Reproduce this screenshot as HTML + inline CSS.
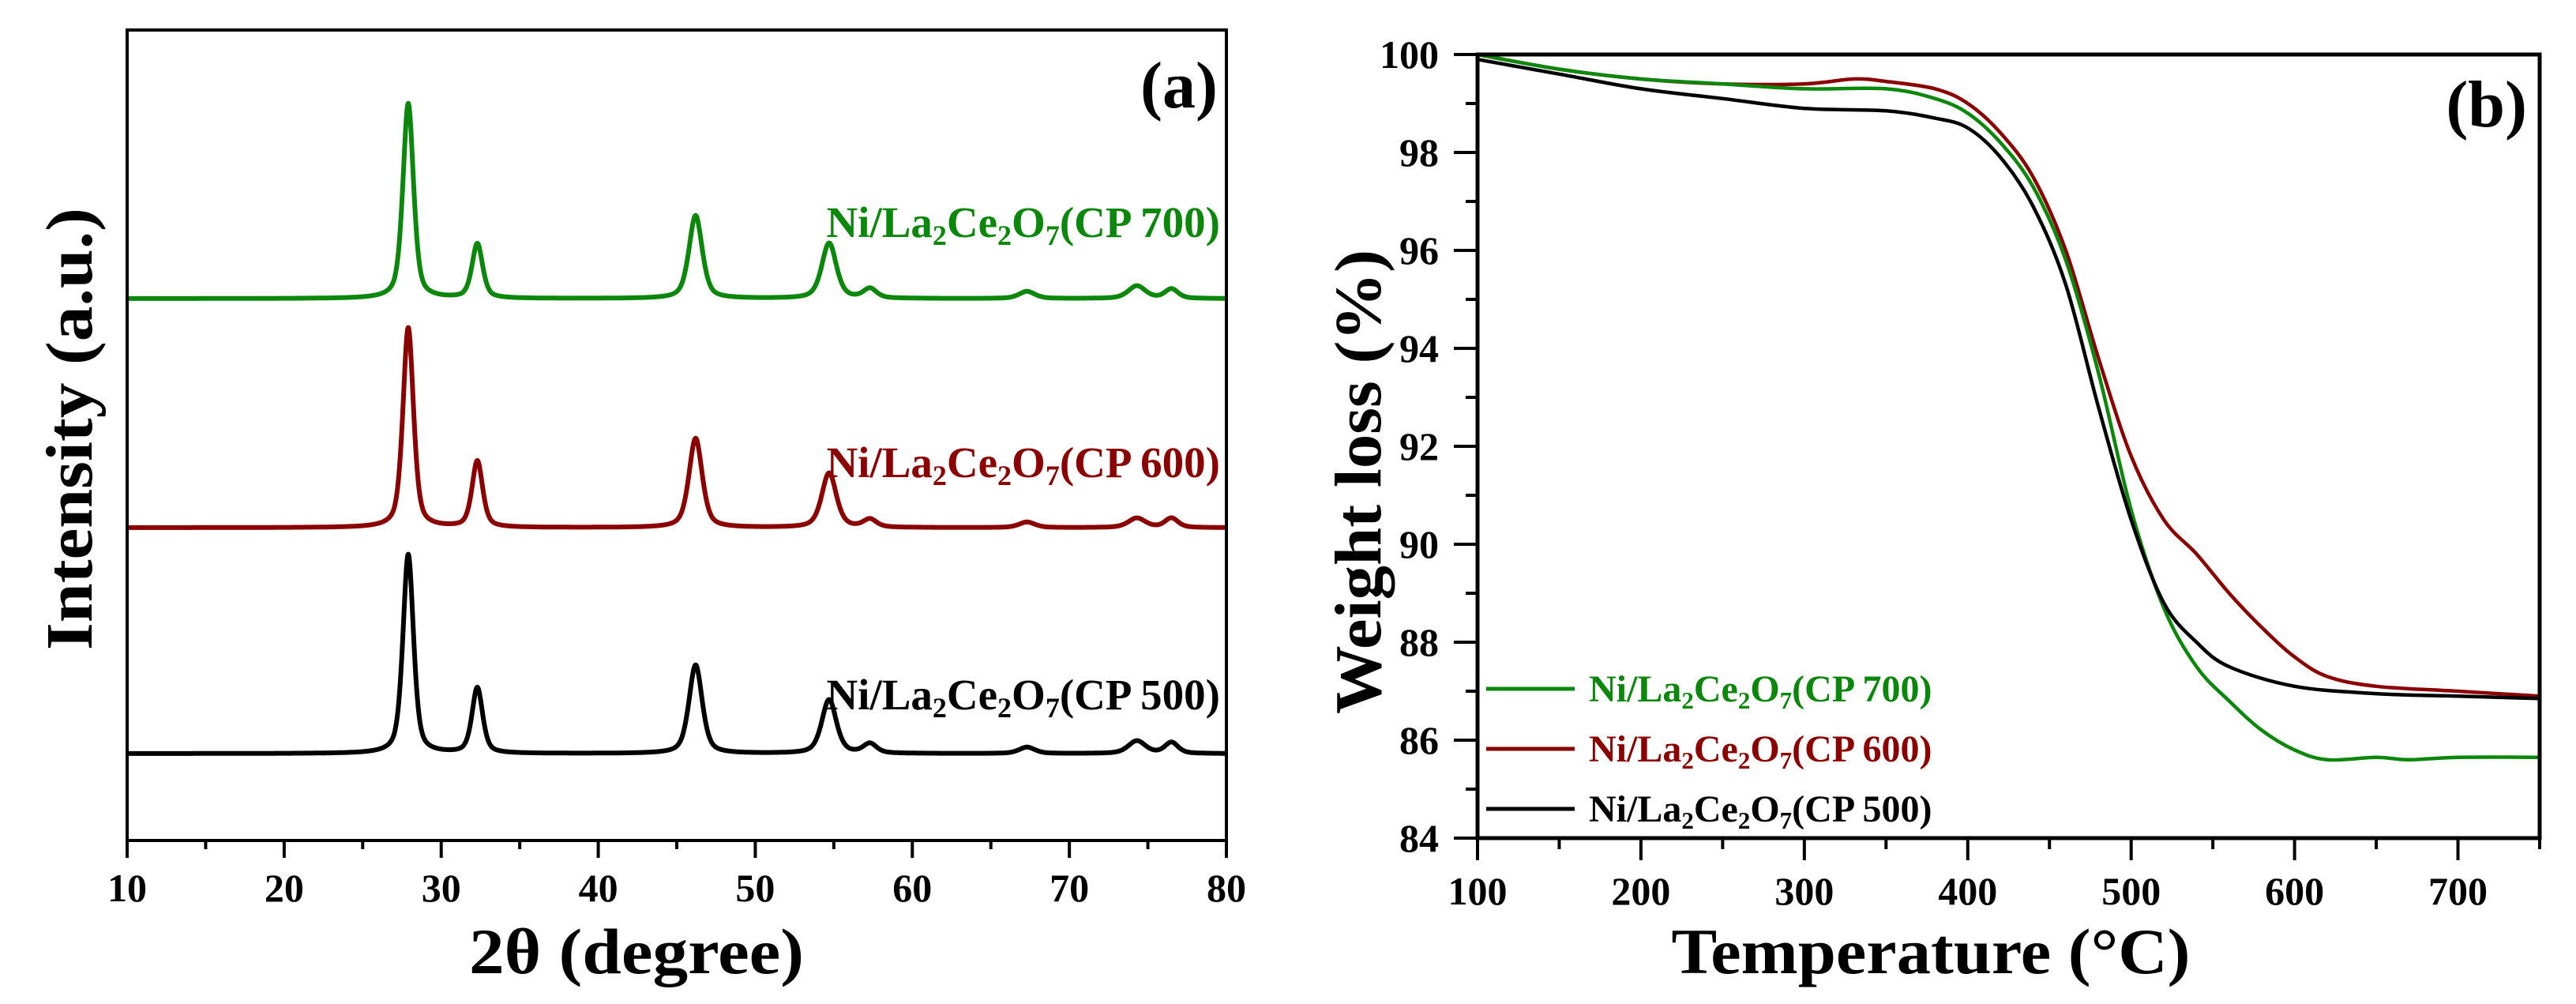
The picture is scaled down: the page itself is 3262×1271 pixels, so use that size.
<!DOCTYPE html>
<html><head><meta charset="utf-8"><style>
html,body{margin:0;padding:0;background:#fff;}
svg{display:block;font-family:"Liberation Serif",serif;font-weight:bold;}
</style></head><body>
<svg id="fig" width="3262" height="1271" viewBox="0 0 3262 1271" xmlns="http://www.w3.org/2000/svg"></svg>
<script>
// ---------- Panel (a) XRD data ----------
const xrdSeriesNames = ["CP 500", "CP 600", "CP 700"];
const xrdOffsets = [110, 396, 686];
const xrdPeakPos = [27.9, 32.3, 46.2, 54.7, 57.3, 67.3, 74.3, 76.5];
const xrdPeakWidth = [0.8, 0.8, 1.0, 1.1, 1.0, 1.2, 1.3, 1.0];
const xrdHeights500 = [252, 83, 112, 68, 12, 8, 16, 14];
const xrdHeights600 = [253, 84, 113, 69, 10, 7, 12, 12];
const xrdHeights700 = [247, 69, 105, 70, 12, 9, 16, 12];
const xrdTicks = [10, 20, 30, 40, 50, 60, 70, 80];
// ---------- Panel (b) TGA data ----------
const tgaT500 = [100,150,200,250,300,350,380,400,420,440,460,480,500,520,540,560,600,650,700,750];
const tgaW500 = [99.9,99.6,99.3,99.1,98.9,98.85,98.7,98.5,97.9,96.9,95.3,92.8,90.5,88.8,88.0,87.5,87.1,86.95,86.9,86.85];
const tgaT700 = [100,150,200,250,300,350,380,400,420,440,460,480,500,520,540,560,580,600,620,650,670,700,750];
const tgaW700 = [100,99.7,99.5,99.4,99.3,99.3,99.1,98.8,98.2,97.3,95.8,93.5,90.7,88.7,87.5,86.8,86.2,85.8,85.6,85.65,85.6,85.65,85.65];
const tgaT600 = [100,150,200,250,300,330,350,380,400,420,440,460,480,500,520,540,560,580,600,620,650,700,750];
const tgaW600 = [100,99.7,99.5,99.4,99.4,99.5,99.45,99.3,99.0,98.4,97.5,96.0,93.8,91.8,90.5,89.8,89.0,88.3,87.7,87.3,87.1,87.0,86.9];
const tgaXTicks = [100,200,300,400,500,600,700];
const tgaYTicks = [84,86,88,90,92,94,96,98,100];

const NS = "http://www.w3.org/2000/svg";
const svg = document.getElementById("fig");
function mk(tag, attrs, parent){ const e=document.createElementNS(NS,tag); for(const k in attrs) e.setAttribute(k,attrs[k]); (parent||svg).appendChild(e); return e; }

const GREEN="#0b870b", RED="#8b0000", BLACK="#000";

// ===== Panel A =====
const A = {l:161, r:1553, t:38, b:1064, x0:10, x1:80};
const ax = v => A.l + (v - A.x0) / (A.x1 - A.x0) * (A.r - A.l);
const ay = v => A.b - v;
const gA = mk("g", {});



function xrdPath(heights, offset){
  let d = "";
  for (let x = 10; x <= 80.0001; x += 0.02){
    let v = offset;
    for (let i=0;i<xrdPeakPos.length;i++){
      const w = xrdPeakWidth[i]/2, dx = x - xrdPeakPos[i];
      v += heights[i] * (0.5 * w*w/(dx*dx + w*w) + 0.5*Math.exp(-Math.LN2*dx*dx/(w*w)));
    }
    d += (d ? "L" : "M") + ax(x).toFixed(1) + "," + ay(v).toFixed(1);
  }
  return d;
}
const xrdSets = [[xrdHeights500, BLACK, "xrd-line-cp500"], [xrdHeights600, RED, "xrd-line-cp600"], [xrdHeights700, GREEN, "xrd-line-cp700"]];
xrdSets.forEach((s, i) => {
  const p = mk("path", {d: xrdPath(s[0], xrdOffsets[i]), fill:"none", stroke:s[1], "stroke-width":6, "stroke-linejoin":"round"}, gA);
  
  
});
const frameA = mk("rect", {x:A.l, y:A.t, width:A.r-A.l, height:A.b-A.t, fill:"none", stroke:"#000", "stroke-width":4}, gA);


for (let v=10; v<=80; v+=5){
  const major = v%10===0;
  const t = mk("line", {x1:ax(v), x2:ax(v), y1:A.b, y2:A.b+(major?22:11), stroke:"#000", "stroke-width":4}, gA);
  
  
}
xrdTicks.forEach(v => {
  const t = mk("text", {x:ax(v), y:1141, "text-anchor":"middle", "font-size":50}, gA);
  t.textContent = v;
  
  
});
</script>
<svg style="position:absolute;left:0;top:0" width="3262" height="1271" xmlns="http://www.w3.org/2000/svg" font-family="Liberation Serif, serif" font-weight="bold">
  <text x="806" y="1232" text-anchor="middle" font-size="82" textLength="424" lengthAdjust="spacingAndGlyphs">2θ (degree)</text>
  <text transform="translate(116,543) rotate(-90)" text-anchor="middle" font-size="84" textLength="560" lengthAdjust="spacingAndGlyphs">Intensity (a.u.)</text>
  <text x="1542" y="136" text-anchor="end" font-size="84">(a)</text>
  <text x="1545" y="300" text-anchor="end" font-size="55" fill="#0b870b">Ni/La<tspan font-size="36" dy="10">2</tspan><tspan dy="-10">Ce</tspan><tspan font-size="36" dy="10">2</tspan><tspan dy="-10">O</tspan><tspan font-size="36" dy="10">7</tspan><tspan dy="-10">(CP 700)</tspan></text>
  <text x="1545" y="604" text-anchor="end" font-size="55" fill="#8b0000">Ni/La<tspan font-size="36" dy="10">2</tspan><tspan dy="-10">Ce</tspan><tspan font-size="36" dy="10">2</tspan><tspan dy="-10">O</tspan><tspan font-size="36" dy="10">7</tspan><tspan dy="-10">(CP 600)</tspan></text>
  <text x="1545" y="898" text-anchor="end" font-size="55" fill="#000">Ni/La<tspan font-size="36" dy="10">2</tspan><tspan dy="-10">Ce</tspan><tspan font-size="36" dy="10">2</tspan><tspan dy="-10">O</tspan><tspan font-size="36" dy="10">7</tspan><tspan dy="-10">(CP 500)</tspan></text>

  <text x="2445" y="1232" text-anchor="middle" font-size="82" textLength="657" lengthAdjust="spacingAndGlyphs">Temperature (°C)</text>
  <text transform="translate(1748,610) rotate(-90)" text-anchor="middle" font-size="84" textLength="588" lengthAdjust="spacingAndGlyphs">Weight loss (%)</text>
  <text x="3200" y="160" text-anchor="end" font-size="84">(b)</text>
  <g>
    <line x1="1882" x2="1994" y1="872" y2="872" stroke="#0b870b" stroke-width="5"/>
    <text x="2012" y="888" font-size="48" fill="#0b870b">Ni/La<tspan font-size="31" dy="9">2</tspan><tspan dy="-9">Ce</tspan><tspan font-size="31" dy="9">2</tspan><tspan dy="-9">O</tspan><tspan font-size="31" dy="9">7</tspan><tspan dy="-9">(CP 700)</tspan></text>
    <line x1="1882" x2="1994" y1="948" y2="948" stroke="#8b0000" stroke-width="5"/>
    <text x="2012" y="964" font-size="48" fill="#8b0000">Ni/La<tspan font-size="31" dy="9">2</tspan><tspan dy="-9">Ce</tspan><tspan font-size="31" dy="9">2</tspan><tspan dy="-9">O</tspan><tspan font-size="31" dy="9">7</tspan><tspan dy="-9">(CP 600)</tspan></text>
    <line x1="1882" x2="1994" y1="1024" y2="1024" stroke="#000" stroke-width="5"/>
    <text x="2012" y="1040" font-size="48" fill="#000">Ni/La<tspan font-size="31" dy="9">2</tspan><tspan dy="-9">Ce</tspan><tspan font-size="31" dy="9">2</tspan><tspan dy="-9">O</tspan><tspan font-size="31" dy="9">7</tspan><tspan dy="-9">(CP 500)</tspan></text>
  </g>
</svg>
<script>
// ===== Panel B =====
const B = {l:1871, r:3216, t:69, b:1061, x0:100, x1:750, y0:84, y1:100};
const bx = v => B.l + (v - B.x0) / (B.x1 - B.x0) * (B.r - B.l);
const by = v => B.b - (v - B.y0) / (B.y1 - B.y0) * (B.b - B.t);
const gB = mk("g", {});



function smooth(xs, ys){
  const P = xs.map((x,i)=>[bx(x), by(ys[i])]);
  let d = "M"+P[0][0].toFixed(1)+","+P[0][1].toFixed(1);
  for (let i=0;i<P.length-1;i++){
    const p0=P[Math.max(0,i-1)], p1=P[i], p2=P[i+1], p3=P[Math.min(P.length-1,i+2)];
    const c1=[p1[0]+(p2[0]-p0[0])/6, p1[1]+(p2[1]-p0[1])/6];
    const c2=[p2[0]-(p3[0]-p1[0])/6, p2[1]-(p3[1]-p1[1])/6];
    d += "C"+c1.map(v=>v.toFixed(1)).join(",")+" "+c2.map(v=>v.toFixed(1)).join(",")+" "+p2[0].toFixed(1)+","+p2[1].toFixed(1);
  }
  return d;
}
const clip = mk("clipPath", {id:"clipB"}, gB);
mk("rect", {x:B.l, y:B.t-6, width:B.r-B.l, height:B.b-B.t+6}, clip);
const tgaSets = [[tgaT600, tgaW600, RED, "tga-line-cp600"], [tgaT700, tgaW700, GREEN, "tga-line-cp700"], [tgaT500, tgaW500, BLACK, "tga-line-cp500"]];
tgaSets.forEach(s => {
  const p = mk("path", {d: smooth(s[0], s[1]), fill:"none", stroke:s[2], "stroke-width":4.5, "clip-path":"url(#clipB)"}, gB);
  
  
});
const frameB = mk("rect", {x:B.l, y:B.t, width:B.r-B.l, height:B.b-B.t, fill:"none", stroke:"#000", "stroke-width":5}, gB);


for (let v=100; v<=750; v+=50){
  const major = v%100===0;
  const t = mk("line", {x1:bx(v), x2:bx(v), y1:B.b, y2:B.b+(major?28:14), stroke:"#000", "stroke-width":4}, gB);
  
  
}
tgaXTicks.forEach(v => {
  const t = mk("text", {x:bx(v), y:1145, "text-anchor":"middle", "font-size":50}, gB);
  t.textContent = v;
  
  
});
for (let v=84; v<=100; v+=1){
  const major = v%2===0;
  const t = mk("line", {x1:B.l-(major?30:15), x2:B.l, y1:by(v), y2:by(v), stroke:"#000", "stroke-width":4}, gB);
  
  
}
tgaYTicks.forEach(v => {
  const t = mk("text", {x:1822, y:by(v)+17, "text-anchor":"end", "font-size":50}, gB);
  t.textContent = v;
  
  
});
</script>
</body></html>
